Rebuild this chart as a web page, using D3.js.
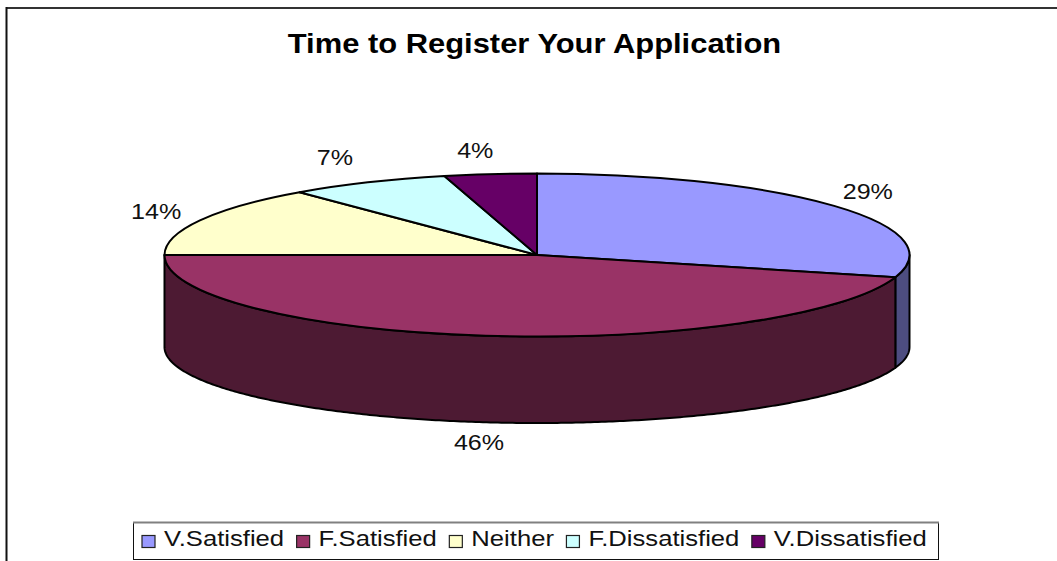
<!DOCTYPE html>
<html lang="en">
<head>
    <meta charset="UTF-8">
    <script src="https://d3js.org/d3.v7.min.js"></script>
    <style>
        html, body { margin: 0; padding: 0; background: white; overflow: hidden; }
        text { font-family: "Liberation Sans", Arial, sans-serif; fill: #111; }
    </style>
</head>
<body>
    <svg id="chart" width="1057" height="561"></svg>
    <script>
        const categories = ["V.Satisfied", "F.Satisfied", "Neither", "F.Dissatisfied", "V.Dissatisfied"];
        const values = [29.4, 45.6, 14, 7, 4];
        const topColors = ["#9999ff", "#993366", "#ffffcc", "#ccffff", "#660066"];
        const wallColors = ["#4d4d80", "#4d1a33", "#808066", "#668080", "#330033"];

        const width = 1057, height = 561;
        const cx = 537, cy = 255, rx = 372.5, ry = 81.5;
        const wallDrop = 92, wallRy = 76;

        const svg = d3.select("#chart");

        // frame: only the top and left edges fall inside the crop
        svg.append("line").attr("x1", 6).attr("x2", width).attr("y1", 8).attr("y2", 8)
            .attr("stroke", "#333").attr("stroke-width", 2);
        svg.append("line").attr("x1", 6.5).attr("x2", 6.5).attr("y1", 7).attr("y2", height)
            .attr("stroke", "#111").attr("stroke-width", 2);

        svg.append("text")
            .attr("transform", "translate(534.5,52.5) scale(1.145,1)")
            .attr("text-anchor", "middle")
            .attr("font-size", 27)
            .attr("font-weight", "bold")
            .style("fill", "#000")
            .text("Time to Register Your Application");

        const pie = d3.pie().sort(null);
        const slices = pie(values);

        // side walls, only the part of each slice facing the viewer
        const wallArea = d3.area()
            .x(a => cx + rx * Math.sin(a))
            .y0(a => cy - ry * Math.cos(a))
            .y1(a => cy + wallDrop - wallRy * Math.cos(a));

        const walls = svg.append("g");
        slices.forEach((s, i) => {
            const from = Math.max(s.startAngle, Math.PI / 2);
            const to = Math.min(s.endAngle, Math.PI * 1.5);
            if (from >= to) return;
            const steps = d3.range(from, to, 0.01).concat([to]);
            walls.append("path")
                .attr("d", wallArea(steps))
                .attr("fill", wallColors[i])
                .attr("stroke", "#000")
                .attr("stroke-width", 2)
                .attr("stroke-linejoin", "round");
        });

        // top face: a circular pie squashed into the ellipse
        const arc = d3.arc().innerRadius(0).outerRadius(rx);
        svg.append("g")
            .attr("transform", `translate(${cx},${cy}) scale(1,${ry / rx})`)
            .selectAll("path")
            .data(slices)
            .enter().append("path")
            .attr("d", arc)
            .attr("fill", (d, i) => topColors[i])
            .attr("stroke", "#000")
            .attr("stroke-width", 2)
            .attr("stroke-linejoin", "round")
            .attr("vector-effect", "non-scaling-stroke");

        // percentage labels sit outside the rim, lower ones below the wall
        const labelNudge = [[-5, -1], [0, 0], [0, 1], [-11, -4], [-9, -1]];
        svg.append("g").selectAll("text")
            .data(slices)
            .enter().append("text")
            .attr("transform", (d, i) => {
                const mid = (d.startAngle + d.endAngle) / 2;
                const c = Math.cos(mid);
                const x = cx + rx * 1.13 * Math.sin(mid) + labelNudge[i][0];
                const y = cy - ry * 1.29 * c + (c < 0 ? 83 : 0) + 8 + labelNudge[i][1];
                return `translate(${x},${y}) scale(1.14,1)`;
            })
            .attr("text-anchor", "middle")
            .attr("font-size", 22)
            .text(d => Math.round(d.value) + "%");

        // legend
        svg.append("rect")
            .attr("x", 133.5).attr("y", 522.5).attr("width", 805).attr("height", 37)
            .attr("fill", "white").attr("stroke", "#111").attr("stroke-width", 1);
        svg.append("line").attr("x1", 133).attr("x2", 939).attr("y1", 522.5).attr("y2", 522.5)
            .attr("stroke", "#808080").attr("stroke-width", 2);

        let legendX = 142;
        categories.forEach((name, i) => {
            svg.append("rect")
                .attr("x", legendX).attr("y", 535.5).attr("width", 13).attr("height", 12)
                .attr("fill", topColors[i]).attr("stroke", "#222").attr("stroke-width", 1.2);
            const label = svg.append("text")
                .attr("transform", `translate(${legendX + 22},546) scale(1.165,1)`)
                .attr("font-size", 22)
                .text(name);
            legendX += 22 + label.node().getComputedTextLength() * 1.165 + 12.5;
        });
    </script>
</body>
</html>
